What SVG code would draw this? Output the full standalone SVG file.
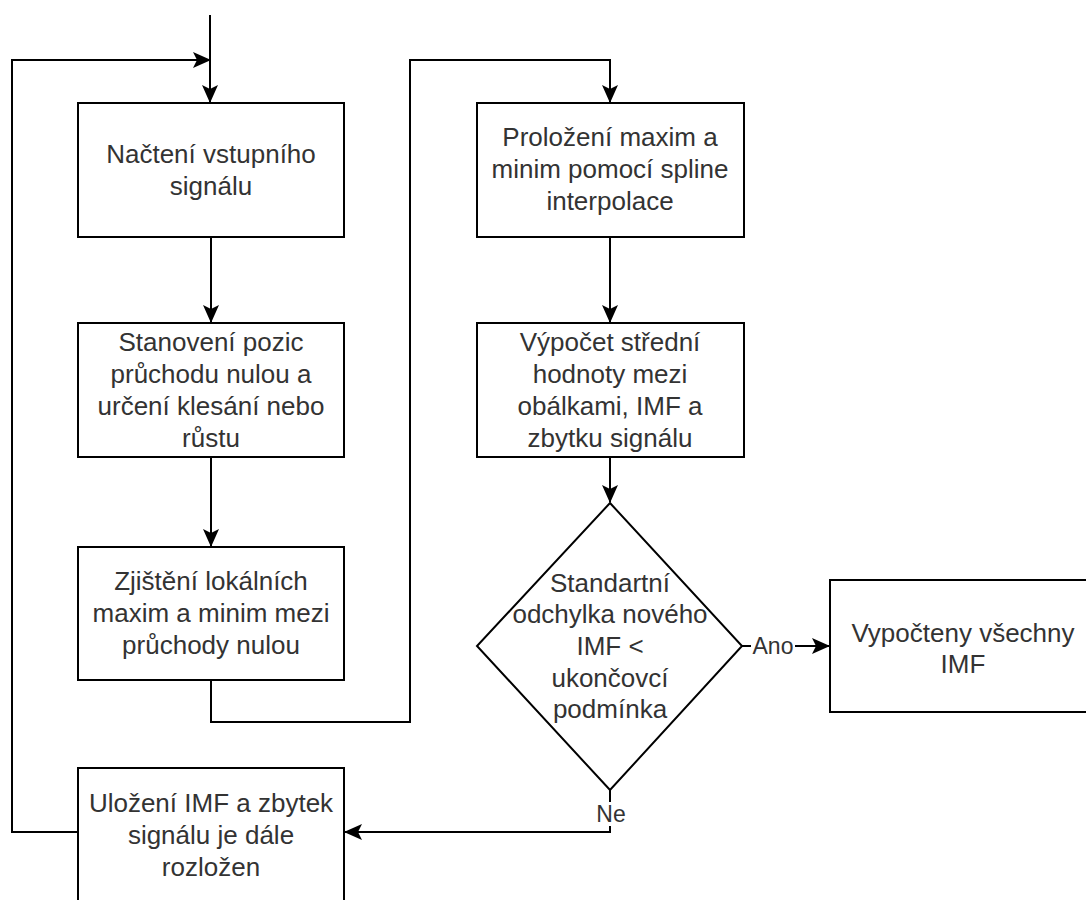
<svg xmlns="http://www.w3.org/2000/svg" width="1086" height="900" viewBox="0 0 1086 900">
  <style>
    .box { fill: #ffffff; stroke: #000000; stroke-width: 2; }
    .edge { fill: none; stroke: #000000; stroke-width: 2; }
    .txt { font-family: "Liberation Sans", Arial, sans-serif; font-size: 26px; fill: #333333; text-anchor: middle; }
    .lbl { font-family: "Liberation Sans", Arial, sans-serif; font-size: 23px; fill: #333333; text-anchor: middle; }
  </style>
  <defs>
    <marker id="arrow" viewBox="0 0 18 16" refX="17" refY="8" markerWidth="18" markerHeight="16" markerUnits="userSpaceOnUse" orient="auto">
      <path d="M0,0 L18,8 L0,16 L4,8 Z" fill="#000000"/>
    </marker>
  </defs>
  <rect width="1086" height="900" fill="#ffffff"/>

  <!-- connectors -->
  <g id="connectors">
    <path class="edge" d="M210,15 L210,102" marker-end="url(#arrow)"/>
    <path class="edge" d="M78,832 L12,832 L12,60 L210,60" marker-end="url(#arrow)"/>
    <path class="edge" d="M211,237 L211,322" marker-end="url(#arrow)"/>
    <path class="edge" d="M211,457 L211,546" marker-end="url(#arrow)"/>
    <path class="edge" d="M211,680 L211,722 L410,722 L410,60 L610,60 L610,102" marker-end="url(#arrow)"/>
    <path class="edge" d="M610,237 L610,322" marker-end="url(#arrow)"/>
    <path class="edge" d="M610,457 L610,502" marker-end="url(#arrow)"/>
    <path class="edge" d="M742,646 L829,646" marker-end="url(#arrow)"/>
    <path class="edge" d="M610,790 L610,832 L345,832" marker-end="url(#arrow)"/>
    <rect x="751" y="632" width="44" height="26" fill="#ffffff"/>
    <text class="lbl" x="773" y="654">Ano</text>
    <rect x="594" y="802" width="32" height="24" fill="#ffffff"/>
    <text class="lbl" x="611" y="822">Ne</text>
  </g>

  <g id="nacteni">
    <rect class="box" x="78" y="103" width="266" height="134"/>
    <text class="txt" x="211" y="163">Načtení vstupního</text>
    <text class="txt" x="211" y="195">signálu</text>
  </g>

  <g id="stanoveni">
    <rect class="box" x="78" y="323" width="266" height="134"/>
    <text class="txt" x="211" y="351">Stanovení pozic</text>
    <text class="txt" x="211" y="383">průchodu nulou a</text>
    <text class="txt" x="211" y="415">určení klesání nebo</text>
    <text class="txt" x="211" y="447">růstu</text>
  </g>

  <g id="zjisteni">
    <rect class="box" x="78" y="547" width="266" height="133"/>
    <text class="txt" x="211" y="590">Zjištění lokálních</text>
    <text class="txt" x="211" y="622">maxim a minim mezi</text>
    <text class="txt" x="211" y="654">průchody nulou</text>
  </g>

  <g id="ulozeni">
    <rect class="box" x="78" y="768" width="266" height="134"/>
    <text class="txt" x="211" y="812">Uložení IMF a zbytek</text>
    <text class="txt" x="211" y="844">signálu je dále</text>
    <text class="txt" x="211" y="876">rozložen</text>
  </g>

  <g id="prolozeni">
    <rect class="box" x="477" y="103" width="267" height="134"/>
    <text class="txt" x="610" y="146">Proložení maxim a</text>
    <text class="txt" x="610" y="178">minim pomocí spline</text>
    <text class="txt" x="610" y="210">interpolace</text>
  </g>

  <g id="vypocet">
    <rect class="box" x="477" y="323" width="267" height="134"/>
    <text class="txt" x="610" y="351">Výpočet střední</text>
    <text class="txt" x="610" y="383">hodnoty mezi</text>
    <text class="txt" x="610" y="415">obálkami, IMF a</text>
    <text class="txt" x="610" y="447">zbytku signálu</text>
  </g>

  <g id="podminka">
    <polygon class="box" points="610,503 742,646 610,790 477,646"/>
    <text class="txt" x="610" y="592">Standartní</text>
    <text class="txt" x="610" y="623">odchylka nového</text>
    <text class="txt" x="610" y="655">IMF &lt;</text>
    <text class="txt" x="610" y="687">ukončovcí</text>
    <text class="txt" x="610" y="718">podmínka</text>
  </g>

  <g id="vypocteny">
    <rect class="box" x="830" y="580" width="266" height="132"/>
    <text class="txt" x="963" y="642">Vypočteny všechny</text>
    <text class="txt" x="963" y="673">IMF</text>
  </g>
</svg>
